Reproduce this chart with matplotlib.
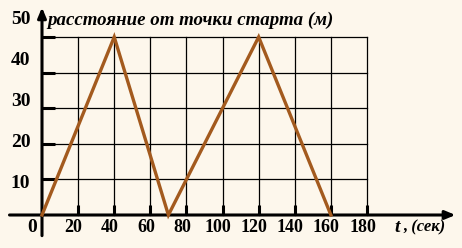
import matplotlib
matplotlib.use("Agg")
import matplotlib.pyplot as plt

t_vals = [0, 40, 70, 120, 160]
dist_vals = [0, 50, 0, 50, 0]
x_ticks = [20, 40, 60, 80, 100, 120, 140, 160, 180]
y_ticks = [10, 20, 30, 40, 50]

bg = "#FDF7EC"
fig = plt.figure(figsize=(4.62, 2.48), dpi=100, facecolor=bg)
ax = fig.add_axes([42/462, 33/248, 325/462, 178/248])
ax.set_facecolor(bg)
ax.set_xlim(0, 180)
ax.set_ylim(0, 50)
for s in ax.spines.values():
    s.set_visible(False)
ax.set_xticks([]); ax.set_yticks([])

# grid
for x in x_ticks:
    ax.plot([x, x], [0, 50], color="black", lw=0.9, clip_on=False, zorder=1)
    ax.plot([x, x], [0, 2.8], color="black", lw=2.2, clip_on=False, zorder=2, solid_capstyle="butt")
for y in y_ticks:
    ax.plot([0, 180], [y, y], color="black", lw=0.9, clip_on=False, zorder=1)
    ax.plot([0, 7.2], [y, y], color="black", lw=2.2, clip_on=False, zorder=2, solid_capstyle="butt")

# axes with arrows
ax.annotate("", xy=(229, 0), xytext=(-18, 0), xycoords="data",
            arrowprops=dict(arrowstyle="-|>,head_length=0.6,head_width=0.25", color="black", lw=2.2,
                            shrinkA=0, shrinkB=0), annotation_clip=False)
ax.annotate("", xy=(0, 58.3), xytext=(0, -5.8), xycoords="data",
            arrowprops=dict(arrowstyle="-|>,head_length=0.6,head_width=0.25", color="black", lw=2.2,
                            shrinkA=0, shrinkB=0), annotation_clip=False)

# data line
ax.plot(t_vals, dist_vals, color="#A35A1E", lw=2.4, clip_on=False, zorder=3, solid_joinstyle="miter")

# tick labels
font = dict(family="Liberation Serif", weight="bold")
for x in x_ticks:
    ax.text(x - 2.5, -3.5, str(x), ha="center", va="center", fontsize=13, **font)
for y in y_ticks:
    ax.text(-6.5, 8.8 + 1.15 * (y - 10), str(y), ha="right", va="center", fontsize=14, **font)
ax.text(-3, -3.4, "0", ha="right", va="center", fontsize=14, **font)

ax.text(195, -3.6, "t", ha="left", va="center", fontsize=14, family="Liberation Serif",
        weight="bold", style="italic")
ax.text(200, -3.6, ", (сек)", ha="left", va="center", fontsize=12, family="Liberation Serif",
        weight="bold", style="italic")

ax.text(3, 54.8, "расстояние от точки старта (м)", ha="left", va="center", fontsize=13.6,
        family="Liberation Serif", weight="bold", style="italic", color="black")

fig.savefig("out.png", dpi=100, facecolor=bg)
